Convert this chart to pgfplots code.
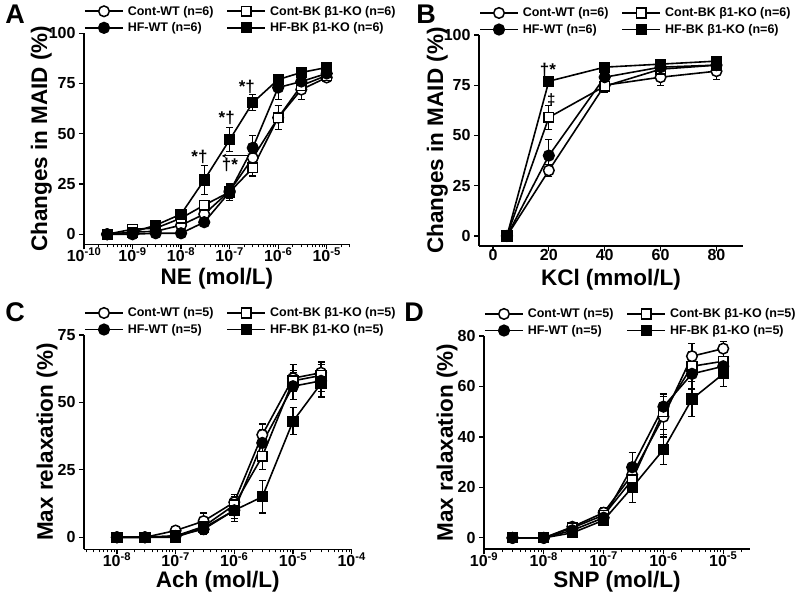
\documentclass[border=0pt]{standalone}
\usepackage{pgfplots}
\pgfplotsset{compat=1.18}
\usepackage{fontspec}
\setmainfont{Liberation Sans}
\pgfplotsset{
  panel/.style={
    scale only axis, axis lines=left, axis line style={-, line width=1.5pt},
    tick align=outside, major tick length=5pt, minor tick length=3pt,
    every tick/.style={line width=1.2pt, black},
    every minor tick/.style={line width=0.9pt, black},
    /pgf/number format/assume math mode=true,
    ticklabel style={font=\bfseries\fontsize{16}{16}\selectfont},
    xticklabel style={inner sep=1pt, yshift=3pt},
    label style={font=\bfseries\fontsize{22.5}{22.5}\selectfont},
    xlabel style={anchor=base},
    ylabel style={anchor=base, rotate=0},
    legend columns=2,
    legend style={draw=none, fill=none, font=\bfseries\fontsize{12.5}{12.5}\selectfont,
      at={(axis description cs:0,1)}, anchor=north west, yshift=28.5pt,
      column sep=3pt, row sep=4pt, inner sep=0pt, nodes={inner sep=1pt}, cells={anchor=west},
      /tikz/every even column/.append style={column sep=12pt}},
    legend image code/.code={\draw[mark repeat=2,mark phase=2,##1] plot coordinates {(0pt,0pt)(19pt,0pt)(38pt,0pt)};},
    clip=false,
  },
  cwt/.style={black, solid, line width=1.6pt, mark=*, mark size=5.3pt, mark options={solid, fill=white, line width=1.5pt}},
  cbk/.style={black, solid, line width=1.6pt, mark=square*, mark size=4.8pt, mark options={solid, fill=white, line width=1.5pt}},
  hwt/.style={black, solid, line width=1.6pt, mark=*, mark size=5.3pt, mark options={solid, fill=black}},
  hbk/.style={black, solid, line width=1.6pt, mark=square*, mark size=4.8pt, mark options={solid, fill=black}},
  eb/.style={/pgfplots/error bars/y dir=both, /pgfplots/error bars/y explicit,
    /pgfplots/error bars/error bar style={line width=1.1pt, solid, black},
    /pgfplots/error bars/error mark options={line width=1.1pt, mark size=3.5pt, black, rotate=90}},
}
\begin{document}
\begin{tikzpicture}[x=1pt,y=1pt]
\useasboundingbox (0,0) rectangle (800,600);
% ---------------- Panel A
\begin{axis}[panel, at={(84pt,355.7pt)}, anchor=south west, width=266pt, height=211pt,
  xmode=log, xmin=1e-10, xmax=3.02e-5, ymin=-5, ymax=100,
  xtick={1e-10,1e-9,1e-8,1e-7,1e-6,1e-5},
  xticklabels={10\textsuperscript{-10},10\textsuperscript{-9},10\textsuperscript{-8},10\textsuperscript{-7},10\textsuperscript{-6},10\textsuperscript{-5}},
  minor xtick={2e-10,3e-10,4e-10,5e-10,6e-10,7e-10,8e-10,9e-10,2e-9,3e-9,4e-9,5e-9,6e-9,7e-9,8e-9,9e-9,2e-8,3e-8,4e-8,5e-8,6e-8,7e-8,8e-8,9e-8,2e-7,3e-7,4e-7,5e-7,6e-7,7e-7,8e-7,9e-7,2e-6,3e-6,4e-6,5e-6,6e-6,7e-6,8e-6,9e-6,2e-5,3e-5},
  ytick={0,25,50,75,100},
  xlabel={NE (mol/L)}, ylabel={Changes in MAID (\%)},
  xlabel style={at={(axis description cs:0.5,-0.19)}},
  ylabel style={at={(axis description cs:-0.139,0.5)}},
]
\addplot[cwt, eb] table[x=x, y=y, y error=e] {
x y e
3e-10 0 0.5
1e-9 1 1
3e-9 1.5 1
1e-8 4.5 1.5
3e-8 10 2
1e-7 21.5 3
3e-7 38 5
1e-6 58 6
3e-6 72 5
1e-5 78 2
};
\addlegendentry{Cont-WT (n=6)}
\addplot[cbk, eb] table[x=x, y=y, y error=e] {
x y e
3e-10 0 0.5
1e-9 2.5 1
3e-9 3 1
1e-8 8 2
3e-8 14.5 2
1e-7 21 3
3e-7 33 4
1e-6 58 6
3e-6 74 4
1e-5 79 2
};
\addlegendentry{Cont-BK β1-KO (n=6)}
\addplot[hwt, eb] table[x=x, y=y, y error=e] {
x y e
3e-10 0 0.5
1e-9 0 0.5
3e-9 0.5 1
1e-8 0.5 1
3e-8 6 1.5
1e-7 21 4
3e-7 43 6
1e-6 73 6
3e-6 76 3
1e-5 80 2
};
\addlegendentry{HF-WT (n=6)}
\addplot[hbk, eb] table[x=x, y=y, y error=e] {
x y e
3e-10 0 0.5
1e-9 1 1
3e-9 4.5 1.5
1e-8 10 2
3e-8 27 7
1e-7 47 6
3e-7 65.5 4
1e-6 77 2
3e-6 80.5 2
1e-5 83 2
};
\addlegendentry{HF-BK β1-KO (n=6)}
\node[font=\bfseries\fontsize{17}{17}\selectfont] at (axis cs:2.4e-8,38.5) {*†};
\node[font=\bfseries\fontsize{17}{17}\selectfont] at (axis cs:8.7e-8,57.7) {*†};
\node[font=\bfseries\fontsize{17}{17}\selectfont] at (axis cs:2.26e-7,73.1) {*†};
\node[font=\bfseries\fontsize{17}{17}\selectfont] at (axis cs:1.02e-7,34.5) {†*};
\draw[<->, >=stealth, line width=1pt] (axis cs:6.9e-8,39) -- (axis cs:2.9e-7,39);
\end{axis}
% ---------------- Panel B
\begin{axis}[panel, at={(479pt,354pt)}, anchor=south west, width=264pt, height=211pt,
  xmin=-5, xmax=89.5, ymin=-5, ymax=100,
  xtick={0,20,40,60,80}, ytick={0,25,50,75,100},
  xlabel={KCl (mmol/L)}, ylabel={Changes in MAID (\%)},
  xlabel style={at={(axis description cs:0.5,-0.185)}},
  ylabel style={at={(axis description cs:-0.136,0.5)}},
]
\addplot[cwt, eb] table[x=x, y=y, y error=e] {
x y e
5 0 1
20 32.6 3
40 75 3
60 79 4
80 82 4
};
\addlegendentry{Cont-WT (n=6)}
\addplot[cbk, eb] table[x=x, y=y, y error=e] {
x y e
5 0 1
20 59 6
40 74.5 3
60 83 2
80 85 2
};
\addlegendentry{Cont-BK β1-KO (n=6)}
\addplot[hwt, eb] table[x=x, y=y, y error=e] {
x y e
5 0 1
20 40 8
40 79 3
60 84 2
80 85 2
};
\addlegendentry{HF-WT (n=6)}
\addplot[hbk, eb] table[x=x, y=y, y error=e] {
x y e
5 0 1
20 77 2
40 84 2
60 85.5 2
80 87 2
};
\addlegendentry{HF-BK β1-KO (n=6)}
\node[font=\bfseries\fontsize{17}{17}\selectfont] at (axis cs:19.7,82.6) {†*};
\node[font=\bfseries\fontsize{15}{15}\selectfont] at (axis cs:20.9,67.7) {‡};
\end{axis}
% ---------------- Panel C
\begin{axis}[panel, at={(84pt,50.7pt)}, anchor=south west, width=267.7pt, height=214.3pt,
  xmode=log, xmin=2.75e-9, xmax=1e-4, ymin=-4.45, ymax=75,
  xtick={1e-8,1e-7,1e-6,1e-5,1e-4},
  xticklabels={10\textsuperscript{-8},10\textsuperscript{-7},10\textsuperscript{-6},10\textsuperscript{-5},10\textsuperscript{-4}},
  minor xtick={3e-9,4e-9,5e-9,6e-9,7e-9,8e-9,9e-9,2e-8,3e-8,4e-8,5e-8,6e-8,7e-8,8e-8,9e-8,2e-7,3e-7,4e-7,5e-7,6e-7,7e-7,8e-7,9e-7,2e-6,3e-6,4e-6,5e-6,6e-6,7e-6,8e-6,9e-6,2e-5,3e-5,4e-5,5e-5,6e-5,7e-5,8e-5,9e-5},
  ytick={0,25,50,75},
  xlabel={Ach (mol/L)}, ylabel={Max relaxation (\%)},
  xlabel style={at={(axis description cs:0.5,-0.18)}},
  ylabel style={at={(axis description cs:-0.116,0.5)}},
]
\addplot[cwt, eb] table[x=x, y=y, y error=e] {
x y e
1e-8 0 0.5
3e-8 0 0.5
1e-7 2.5 1
3e-7 6 3
1e-6 13 3
3e-6 38 4
1e-5 59 5
3e-5 61 4
};
\addlegendentry{Cont-WT (n=5)}
\addplot[cbk, eb] table[x=x, y=y, y error=e] {
x y e
1e-8 0 0.5
3e-8 0 0.5
1e-7 0.5 1
3e-7 4 2
1e-6 12 3
3e-6 30 5
1e-5 58 4
3e-5 60 4
};
\addlegendentry{Cont-BK β1-KO (n=5)}
\addplot[hwt, eb] table[x=x, y=y, y error=e] {
x y e
1e-8 0 0.5
3e-8 0 0.5
1e-7 0.5 1
3e-7 3 2
1e-6 10 3
3e-6 35 5
1e-5 56 5
3e-5 58 4
};
\addlegendentry{HF-WT (n=5)}
\addplot[hbk, eb] table[x=x, y=y, y error=e] {
x y e
1e-8 0 0.5
3e-8 0 0.5
1e-7 0 1
3e-7 3.5 1
1e-6 10 4
3e-6 15 6
1e-5 43 5
3e-5 57 5
};
\addlegendentry{HF-BK β1-KO (n=5)}
\end{axis}
% ---------------- Panel D
\begin{axis}[panel, at={(484pt,51pt)}, anchor=south west, width=266pt, height=213pt,
  xmode=log, xmin=1e-9, xmax=2.8e-5, ymin=-4.4, ymax=80,
  xtick={1e-9,1e-8,1e-7,1e-6,1e-5},
  xticklabels={10\textsuperscript{-9},10\textsuperscript{-8},10\textsuperscript{-7},10\textsuperscript{-6},10\textsuperscript{-5}},
  minor xtick={2e-9,3e-9,4e-9,5e-9,6e-9,7e-9,8e-9,9e-9,2e-8,3e-8,4e-8,5e-8,6e-8,7e-8,8e-8,9e-8,2e-7,3e-7,4e-7,5e-7,6e-7,7e-7,8e-7,9e-7,2e-6,3e-6,4e-6,5e-6,6e-6,7e-6,8e-6,9e-6,2e-5},
  ytick={0,20,40,60,80},
  xlabel={SNP (mol/L)}, ylabel={Max ralaxation (\%)},
  xlabel style={at={(axis description cs:0.5,-0.181)}},
  ylabel style={at={(axis description cs:-0.117,0.5)}},
]
\addplot[cwt, eb] table[x=x, y=y, y error=e] {
x y e
3e-9 0 0.5
1e-8 0 0.5
3e-8 4.4 1
1e-7 10 2
3e-7 25 5
1e-6 48 8
3e-6 72 5
1e-5 75 3
};
\addlegendentry{Cont-WT (n=5)}
\addplot[cbk, eb] table[x=x, y=y, y error=e] {
x y e
3e-9 0 0.5
1e-8 0 0.5
3e-8 4 1
1e-7 9 2
3e-7 23 5
1e-6 50 7
3e-6 68 6
1e-5 70 4
};
\addlegendentry{Cont-BK β1-KO (n=5)}
\addplot[hwt, eb] table[x=x, y=y, y error=e] {
x y e
3e-9 0 0.5
1e-8 0 0.5
3e-8 3 1
1e-7 8 2
3e-7 28 6
1e-6 52 5
3e-6 65 6
1e-5 68 4
};
\addlegendentry{HF-WT (n=5)}
\addplot[hbk, eb] table[x=x, y=y, y error=e] {
x y e
3e-9 0 0.5
1e-8 0 0.5
3e-8 2 1
1e-7 7 2
3e-7 20 6
1e-6 35 6
3e-6 55 7
1e-5 65 5
};
\addlegendentry{HF-BK β1-KO (n=5)}
\end{axis}
% panel letters
\node[font=\bfseries\fontsize{27}{27}\selectfont] at (15pt,586pt) {A};
\node[font=\bfseries\fontsize{27}{27}\selectfont] at (426pt,586pt) {B};
\node[font=\bfseries\fontsize{27}{27}\selectfont] at (15pt,288pt) {C};
\node[font=\bfseries\fontsize{27}{27}\selectfont] at (414pt,288pt) {D};
\end{tikzpicture}
\end{document}
